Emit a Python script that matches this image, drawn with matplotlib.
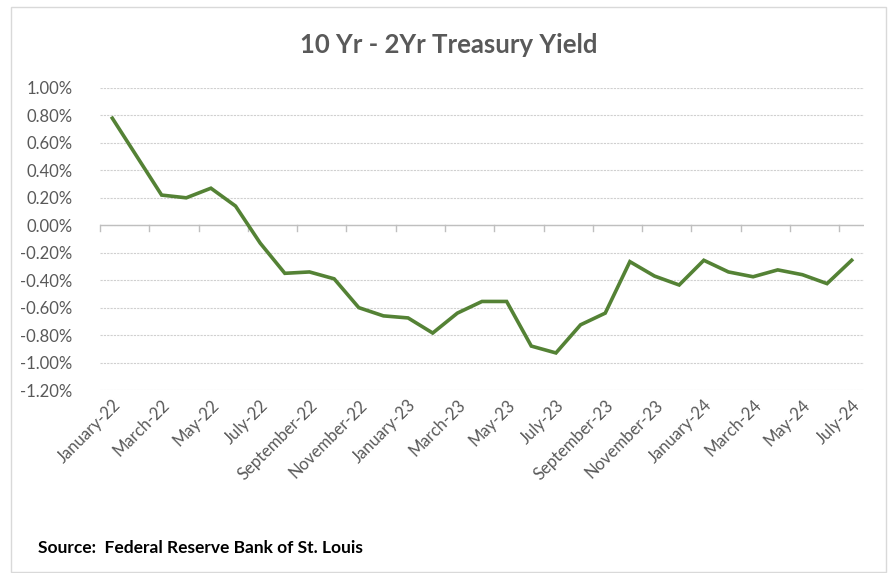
import numpy as np
import matplotlib.pyplot as plt
from matplotlib.patches import Rectangle
from matplotlib.ticker import FuncFormatter, MultipleLocator

# monthly spread, Jan-22 .. Jul-24 (percent)
months = ["January-22", "February-22", "March-22", "April-22", "May-22", "June-22",
          "July-22", "August-22", "September-22", "October-22", "November-22", "December-22",
          "January-23", "February-23", "March-23", "April-23", "May-23", "June-23",
          "July-23", "August-23", "September-23", "October-23", "November-23", "December-23",
          "January-24", "February-24", "March-24", "April-24", "May-24", "June-24", "July-24"]
spread = [0.78, 0.50, 0.22, 0.20, 0.27, 0.14, -0.13, -0.35, -0.34, -0.39, -0.60, -0.66,
          -0.675, -0.785, -0.64, -0.555, -0.555, -0.88, -0.93, -0.725, -0.64, -0.265,
          -0.37, -0.435, -0.255, -0.34, -0.375, -0.325, -0.36, -0.425, -0.255]

grey = "#595959"
plt.rcParams['font.family'] = ['Lato', 'DejaVu Sans']

fig = plt.figure(figsize=(8.92, 5.73), dpi=100)
fig.patches.append(Rectangle((11 / 892, 0.002), 875 / 892, 1 - 7 / 573 - 0.002,
                             transform=fig.transFigure, fill=False,
                             edgecolor="#d9d9d9", linewidth=1.0))

ax = fig.add_axes([100 / 892, 1 - 390 / 573, 764 / 892, 302 / 573])
x = np.arange(len(months))
ax.plot(x, spread, color="#548235", linewidth=2.6, solid_joinstyle="miter", zorder=3)

ax.set_xlim(-0.5, len(months) - 0.5)
ax.set_ylim(-1.2, 1.0)
ax.yaxis.set_major_locator(MultipleLocator(0.2))
ax.yaxis.set_major_formatter(FuncFormatter(lambda v, p: f"{v:.2f}%"))
ax.grid(axis="y", color="#d0d0d0", linestyle=(0, (2, 1)), linewidth=0.8)
ax.tick_params(axis="y", length=0, labelsize=12, labelcolor=grey, pad=20)
for s in ax.spines.values():
    s.set_visible(False)

# horizontal axis at zero with tick marks every two months
ax.axhline(0, color="#bfbfbf", linewidth=1.0, zorder=2)
for t in np.arange(-0.5, len(months), 2):
    ax.plot([t, t], [0, -0.045], color="#bfbfbf", linewidth=1.0, zorder=2, clip_on=False)

ax.set_xticks(x[::2])
ax.set_xticklabels(months[::2], rotation=45, ha="right", va="top",
                   rotation_mode="anchor", fontsize=12, color=grey)
ax.tick_params(axis="x", length=0, pad=5)

fig.text(449 / 892, 1 - 45 / 573, "10 Yr - 2Yr Treasury Yield", ha="center", va="center",
         fontsize=18.5, fontweight="bold", color=grey)
fig.text(38 / 892, 1 - 548 / 573, "Source:  Federal Reserve Bank of St. Louis",
         ha="left", va="center", fontsize=12.5, fontweight="bold", color="black")

fig.savefig("out.png", dpi=100)
